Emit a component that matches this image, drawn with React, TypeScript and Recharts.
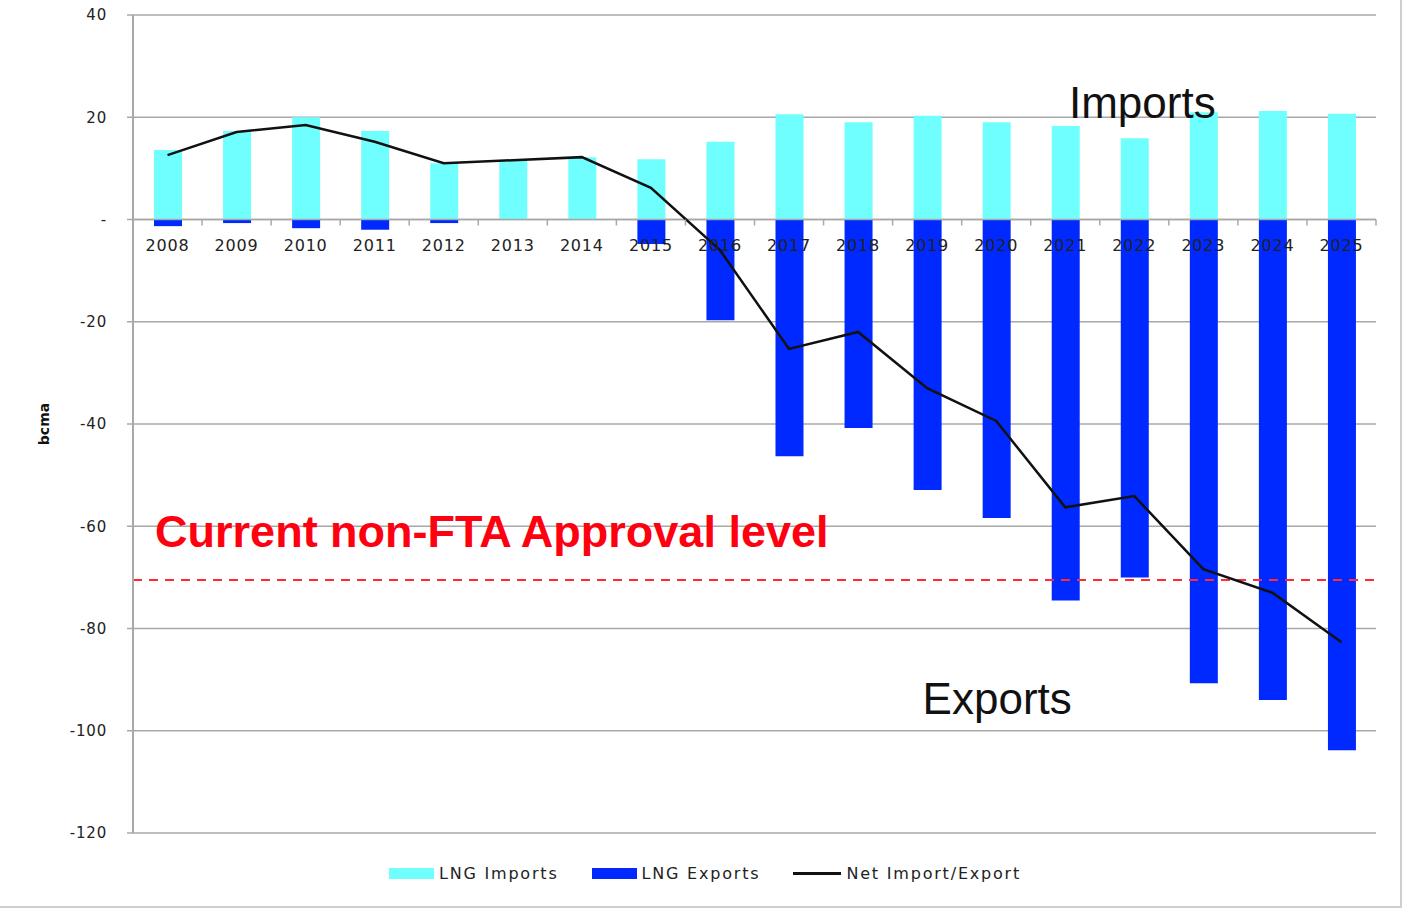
import React from "react";
import {
  ComposedChart,
  Bar,
  Line,
  XAxis,
  YAxis,
  CartesianGrid,
  ReferenceLine,
  ReferenceDot,
  Legend,
} from "recharts";

const years = ["2008", "2009", "2010", "2011", "2012", "2013", "2014", "2015", "2016", "2017", "2018", "2019", "2020", "2021", "2022", "2023", "2024", "2025"];
const lngImports = [13.6, 17.3, 20, 17.3, 11, 11.5, 12.2, 11.8, 15.2, 20.6, 19, 20.3, 19, 18.3, 15.9, 21, 21.2, 20.7];
const lngExports = [-1.3, -0.7, -1.7, -2, -0.7, 0, 0, -4.8, -19.7, -46.3, -40.8, -52.9, -58.4, -74.5, -70, -90.7, -94, -103.8];
const netImportExport = [12.6, 17.1, 18.5, 15.2, 11, 11.6, 12.2, 6.2, -6, -25.3, -22, -33, -39.4, -56.3, -54.1, -68.4, -73, -82.7];
const yTicks = [-120, -100, -80, -60, -40, -20, 0, 20, 40];
const approvalLevel = -70.5;

const data = years.map((year, i) => ({
  year,
  imports: lngImports[i],
  exports: lngExports[i],
  net: netImportExport[i],
}));

const W = 1402;
const H = 908;
const X_AXIS_H = 20;
const LEGEND_H = 40;
const M = { top: 15, right: 26, left: 30, bottom: 15 };
const PLOT_H = H - M.top - M.bottom - LEGEND_H - X_AXIS_H;
const PLOT_W = W - M.left - M.right - 103;
const CAT_W = PLOT_W / years.length;
const ZERO_Y = M.top + (40 / 160) * PLOT_H;

const GRID = "#a8a8a8";
const FONT = "'DejaVu Sans', Verdana, sans-serif";

function YearTick(props: any) {
  const { x, payload, index } = props;
  return (
    <g>
      <line x1={x - CAT_W / 2} x2={x - CAT_W / 2} y1={ZERO_Y} y2={ZERO_Y + 6} stroke={GRID} strokeWidth={1.5} />
      {index === years.length - 1 && (
        <line x1={x + CAT_W / 2} x2={x + CAT_W / 2} y1={ZERO_Y} y2={ZERO_Y + 6} stroke={GRID} strokeWidth={1.5} />
      )}
      <text x={x} y={ZERO_Y + 31} textAnchor="middle" fontSize={16} letterSpacing={0.8} fill="#222" fontFamily={FONT}>
        {payload.value}
      </text>
    </g>
  );
}

function note(text: string, opts: { dx: number; size: number; color: string; bold?: boolean }) {
  return (props: any) => {
    const vb = props.viewBox || {};
    return (
      <text
        x={vb.x + opts.dx}
        y={vb.y}
        textAnchor="middle"
        dominantBaseline="central"
        fontSize={opts.size}
        fontWeight={opts.bold ? "bold" : "normal"}
        fill={opts.color}
        fontFamily="'Liberation Sans', Arial, sans-serif"
      >
        {text}
      </text>
    );
  };
}

function LegendBox() {
  const item = (swatch: React.ReactNode, label: string) => (
    <div style={{ display: "flex", alignItems: "center", gap: 5 }}>
      {swatch}
      <span>{label}</span>
    </div>
  );
  return (
    <div
      style={{
        display: "flex",
        justifyContent: "center",
        alignItems: "center",
        gap: 33,
        marginTop: 11,
        paddingLeft: 8,
        fontFamily: FONT,
        fontSize: 16,
        letterSpacing: 1.8,
        color: "#222",
      }}
    >
      {item(<div style={{ width: 45, height: 11, background: "#70ffff" }} />, "LNG Imports")}
      {item(<div style={{ width: 45, height: 11, background: "#0029ff" }} />, "LNG Exports")}
      {item(<div style={{ width: 48, height: 3, background: "#111" }} />, "Net Import/Export")}
    </div>
  );
}

export default function App() {
  return (
    <div
      style={{
        position: "absolute",
        left: 0,
        top: 0,
        width: W,
        height: H,
        background: "#fff",
        boxSizing: "border-box",
        borderRight: "2px solid #cfcfcf",
        borderBottom: "2px solid #cfcfcf",
      }}
    >
      <ComposedChart width={W} height={H} data={data} margin={M} stackOffset="sign" barSize={28}>
        <CartesianGrid vertical={false} stroke={GRID} strokeWidth={1.5} />
        <XAxis
          dataKey="year"
          axisLine={false}
          tickLine={false}
          height={X_AXIS_H}
          tick={(p: any) => <YearTick {...p} />}
          interval={0}
        />
        <YAxis
          width={103}
          domain={[-120, 40]}
          ticks={yTicks}
          interval={0}
          tickFormatter={(v: number) => (v === 0 ? "-" : String(v))}
          axisLine={{ stroke: GRID, strokeWidth: 2 }}
          tickLine={{ stroke: GRID, strokeWidth: 1.5 }}
          tickSize={6}
          tickMargin={20}
          tick={{ fontSize: 15, fill: "#222", fontFamily: FONT, letterSpacing: 0.8 }}
          label={{ value: "bcma", angle: -90, position: "insideLeft", offset: 14, style: { fontSize: 14, fontWeight: "bold", fill: "#111", fontFamily: FONT, textAnchor: "middle" } }}
        />
        <Legend verticalAlign="bottom" height={LEGEND_H} wrapperStyle={{ left: 0, width: W }} content={() => <LegendBox />} />
        <Bar dataKey="imports" name="LNG Imports" stackId="lng" fill="#70ffff" isAnimationActive={false} />
        <Bar dataKey="exports" name="LNG Exports" stackId="lng" fill="#0029ff" isAnimationActive={false} />
        <ReferenceLine y={0} stroke={GRID} strokeWidth={1.5} />
        <ReferenceLine y={approvalLevel} stroke="#ff2a3a" strokeWidth={2} strokeDasharray="9 7" />
        <Line type="linear" dataKey="net" name="Net Import/Export" stroke="#111" strokeWidth={2.5} dot={false} isAnimationActive={false} />
        <ReferenceDot x="2022" y={22.8} r={0} label={note("Imports", { dx: 8, size: 44, color: "#111" })} ifOverflow="visible" />
        <ReferenceDot x="2020" y={-93.6} r={0} label={note("Exports", { dx: 1, size: 44, color: "#111" })} ifOverflow="visible" />
        <ReferenceDot
          x="2013"
          y={-61.1}
          r={0}
          label={note("Current non-FTA Approval level", { dx: -21, size: 45, color: "#ff0010", bold: true })}
          ifOverflow="visible"
        />
      </ComposedChart>
    </div>
  );
}
